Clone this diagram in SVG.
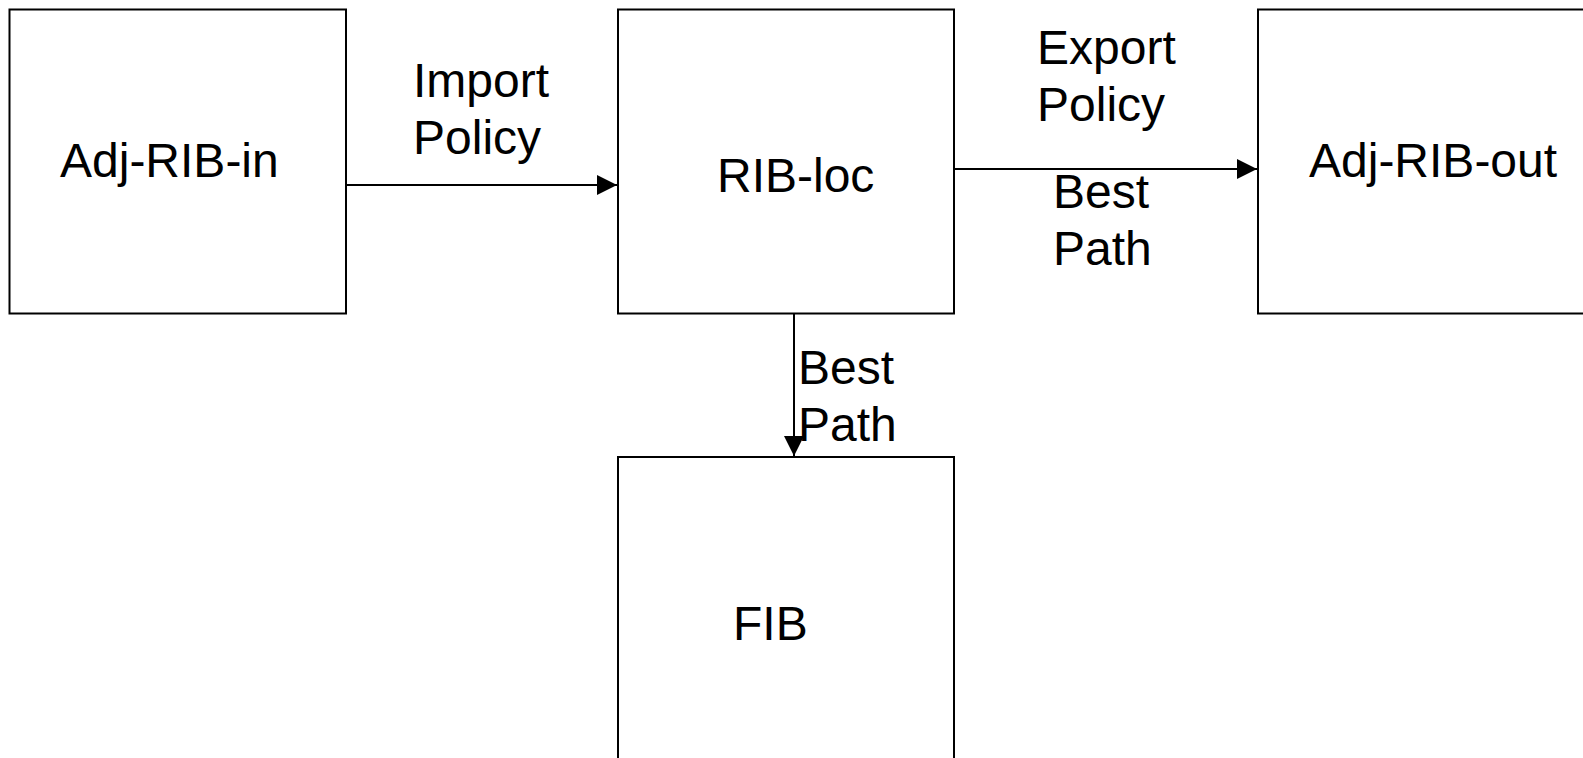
<svg xmlns="http://www.w3.org/2000/svg" width="1583" height="758" viewBox="0 0 1583 758">
  <style>
    .box { fill: #ffffff; stroke: #000000; stroke-width: 2; }
    .edge { fill: none; stroke: #000000; stroke-width: 2; }
    .lbl { font-family: "Liberation Sans", Arial, sans-serif; font-size: 48px; fill: #000000; }
  </style>
  <defs>
    <marker id="arrow" viewBox="0 0 20 20" refX="20" refY="10" markerWidth="20" markerHeight="20" markerUnits="userSpaceOnUse" orient="auto">
      <path d="M0,0 L20,10 L0,20 Z" fill="#000000"/>
    </marker>
  </defs>
  <rect width="1583" height="758" fill="#ffffff"/>

  <g id="adj-rib-in">
    <rect class="box" x="9.5" y="9.5" width="336.5" height="304"/>
    <text class="lbl" x="60" y="177">Adj-RIB-in</text>
  </g>

  <g id="rib-loc">
    <rect class="box" x="618" y="9.5" width="336" height="304"/>
    <text class="lbl" x="717" y="192">RIB-loc</text>
  </g>

  <g id="adj-rib-out">
    <rect class="box" x="1258" y="9.5" width="336" height="304"/>
    <text class="lbl" x="1309" y="177">Adj-RIB-out</text>
  </g>

  <g id="fib">
    <rect class="box" x="618" y="457" width="336" height="304"/>
    <text class="lbl" x="733" y="640">FIB</text>
  </g>

  <g id="connectors">
    <path class="edge" d="M346,185 L617,185" marker-end="url(#arrow)"/>
    <path class="edge" d="M954,169 L1257,169" marker-end="url(#arrow)"/>
    <path class="edge" d="M794,314 L794,456" marker-end="url(#arrow)"/>
    <text class="lbl" x="413" y="97">Import</text>
    <text class="lbl" x="413" y="154">Policy</text>
    <text class="lbl" x="1037" y="64">Export</text>
    <text class="lbl" x="1037" y="121">Policy</text>
    <text class="lbl" x="1053" y="208">Best</text>
    <text class="lbl" x="1053" y="265">Path</text>
    <text class="lbl" x="798" y="384">Best</text>
    <text class="lbl" x="798" y="441">Path</text>
  </g>
</svg>
